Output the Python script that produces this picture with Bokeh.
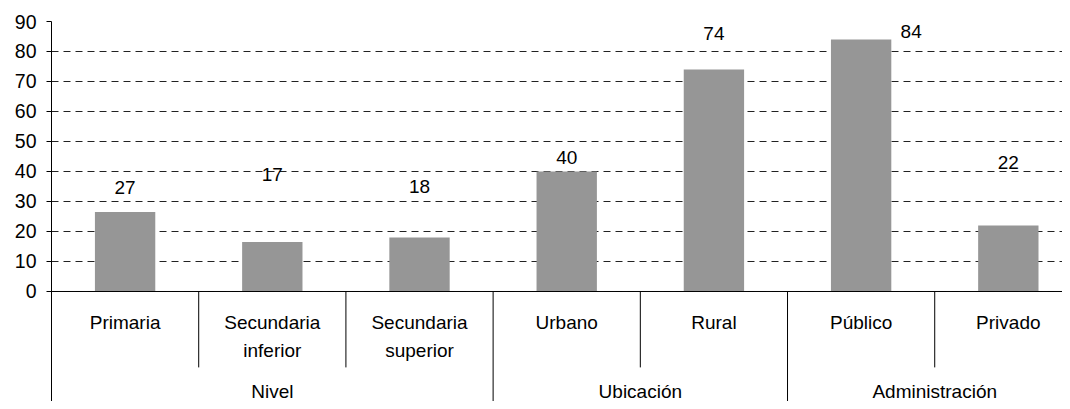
from bokeh.plotting import figure
from bokeh.models import Range1d, FixedTicker, Span, ColumnDataSource
from bokeh.core.properties import value
from bokeh.embed import file_html
from bokeh.resources import INLINE

# ---- data ----
groups = ["Nivel", "Ubicación", "Administración"]
group_sizes = [3, 2, 2]
categories = ["Primaria", "Secundaria\ninferior", "Secundaria\nsuperior",
              "Urbano", "Rural", "Público", "Privado"]
values = [26.5, 16.5, 18, 40, 74, 84, 22]
value_labels = ["27", "17", "18", "40", "74", "84", "22"]
# heights (in axis units) at which each value label sits in the picture
label_heights = [34.8, 39, 35, 44.7, 85.9, 86.5, 43]
label_shift = [0, 0, 0, 0, 0, 0.34, 0]
y_ticks = [0, 10, 20, 30, 40, 50, 60, 70, 80, 90]

FONT = value("Liberation Sans")
FS = "19px"

n = len(categories)
p = figure(width=1062, height=401, title=None,
           x_range=Range1d(0, 6.868), y_range=Range1d(-36.67, 90),
           output_backend="svg", toolbar_location=None, x_axis_location=None,
           min_border_left=51, min_border_right=0, min_border_top=21,
           min_border_bottom=0)
p.outline_line_color = None
p.background_fill_color = "white"
p.border_fill_color = "white"

# y axis
p.yaxis.ticker = FixedTicker(ticks=y_ticks)
p.yaxis.major_tick_in = 0
p.yaxis.major_tick_out = 5
p.yaxis.minor_tick_line_color = None
p.yaxis.axis_line_color = "black"
p.yaxis.major_tick_line_color = "black"
p.yaxis.major_label_standoff = 10
p.yaxis.major_label_text_font = "Liberation Sans"
p.yaxis.major_label_text_font_size = "19.5px"
p.yaxis.major_label_text_color = "black"

p.xgrid.grid_line_color = None
p.ygrid.grid_line_color = "#222222"
p.ygrid.grid_line_dash = "7 5"
p.ygrid.grid_line_width = 1

centers = [i + 0.5 for i in range(n)]
src = ColumnDataSource(dict(x=centers, top=values))
p.vbar(x="x", top="top", width=0.41, source=src, fill_color="#969696", line_color=None)

# zero line
p.add_layout(Span(location=0, dimension="width", line_color="black", line_width=1))

# separators
bounds = []
acc = 0
for g in group_sizes:
    for k in range(1, g):
        bounds.append((acc + k, -25.3))
    acc += g
    if acc < n:
        bounds.append((acc, -36.67))
p.segment(x0=[b[0] for b in bounds], y0=[0] * len(bounds),
          x1=[b[0] for b in bounds], y1=[b[1] for b in bounds],
          line_color="black", line_width=1)

# value labels
p.text(x=[c + s for c, s in zip(centers, label_shift)], y=label_heights, text=value_labels,
       text_align="center", text_baseline="middle", text_font=FONT,
       text_font_size=FS, text_color="black")

# category labels
line1 = [c.split("\n")[0] for c in categories]
p.text(x=centers, y=[-10.2] * n, text=line1, text_align="center", text_baseline="middle",
       text_font=FONT, text_font_size=FS, text_color="black")
l2x, l2t = [], []
for c, cat in zip(centers, categories):
    parts = cat.split("\n")
    if len(parts) > 1:
        l2x.append(c)
        l2t.append(parts[1])
p.text(x=l2x, y=[-19.8] * len(l2x), text=l2t, text_align="center", text_baseline="middle",
       text_font=FONT, text_font_size=FS, text_color="black")

# group labels
gx = []
acc = 0
for g in group_sizes:
    gx.append(acc + g / 2)
    acc += g
p.text(x=gx, y=[-33.2] * len(gx), text=groups, text_align="center", text_baseline="middle",
       text_font=FONT, text_font_size=FS, text_color="black")

open("out.html", "w").write(file_html(p, INLINE))
